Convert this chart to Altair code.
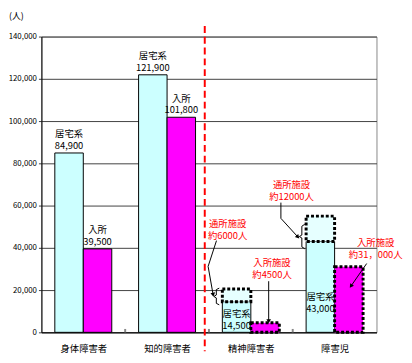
import altair as alt
import pandas as pd

# ---------------- data ----------------
categories = ["身体障害者", "知的障害者", "精神障害者", "障害児"]
home_values = [84900, 121900, 14500, 43000]   # 居宅系
inst_values = [39500, 101800, 4500, 31000]    # 入所
day_values = [0, 0, 6000, 12000]              # 通所施設 (dotted boxes)
y_ticks = [0, 20000, 40000, 60000, 80000, 100000, 120000, 140000]
note_texts = ["通所施設\n約6000人", "入所施設\n約4500人",
              "通所施設\n約12000人", "入所施設\n約31，000人"]

# ---------------- style ----------------
CYAN, MAGENTA, PALE = "#ccffff", "#ff00ff", "#e6ffff"
FONT = "Noto Sans CJK JP"
BAR_W = 0.34
LH = 12

rows = []
for i, c in enumerate(categories):
    mid = i + 0.5
    special = day_values[i] > 0
    rows.append(dict(cat=c, grp="居宅系", x0=mid - BAR_W, x1=mid, y0=0,
                     y1=home_values[i], dotted=False))
    rows.append(dict(cat=c, grp="入所", x0=mid, x1=mid + BAR_W, y0=0,
                     y1=inst_values[i], dotted=special))
    if special:
        rows.append(dict(cat=c, grp="通所", x0=mid - BAR_W, x1=mid,
                         y0=home_values[i], y1=home_values[i] + day_values[i],
                         dotted=True))
bars = pd.DataFrame(rows)

# labels above bars (first two categories)
above = []
for i in range(2):
    mid = i + 0.5
    above.append(dict(x=mid - BAR_W / 2, y=home_values[i],
                      t=f"居宅系\n{home_values[i]:,}"))
    above.append(dict(x=mid + BAR_W / 2, y=inst_values[i],
                      t=f"入所\n{inst_values[i]:,}"))
above = pd.DataFrame(above)

# labels inside cyan bars (last two categories): y of first line
inside_y = [8500, 16800]
inside = pd.DataFrame([
    dict(x=i + 0.5 - BAR_W / 2, y=inside_y[k], t=f"居宅系\n{home_values[i]:,}")
    for k, i in enumerate([2, 3])
])

# red annotations (positions in data units, y of first line)
notes = pd.DataFrame(dict(
    x=[2.223, 2.753, 2.986, 3.99],
    y=[51160, 32560, 69770, 42140],
    t=note_texts,
))

arrows = pd.DataFrame([
    dict(a=0, o=0, x=2.09, y=43400), dict(a=0, o=1, x=1.99, y=31200), dict(a=0, o=2, x=2.05, y=17800),
    dict(a=1, o=0, x=2.713, y=24200), dict(a=1, o=1, x=2.713, y=5200),
    dict(a=2, o=0, x=2.859, y=61400), dict(a=2, o=1, x=2.859, y=53950), dict(a=2, o=2, x=3.062, y=45120),
    dict(a=3, o=0, x=3.883, y=32560), dict(a=3, o=1, x=3.695, y=21860),
])
heads = pd.DataFrame(dict(
    x=[2.05, 2.713, 3.062, 3.695],
    y=[17800, 5200, 45120, 21860],
    ang=[170, 180, 138, 215],
))

braces = pd.DataFrame([
    dict(b=0, o=0, x=2.123, y=20930), dict(b=0, o=1, x=2.088, y=20230),
    dict(b=0, o=2, x=2.088, y=17670), dict(b=0, o=3, x=2.059, y=16980),
    dict(b=0, o=4, x=2.088, y=16280), dict(b=0, o=5, x=2.088, y=13720),
    dict(b=0, o=6, x=2.123, y=13020),
    dict(b=1, o=0, x=3.144, y=51160), dict(b=1, o=1, x=3.109, y=50230),
    dict(b=1, o=2, x=3.109, y=46050), dict(b=1, o=3, x=3.079, y=45350),
    dict(b=1, o=4, x=3.109, y=44650), dict(b=1, o=5, x=3.109, y=40470),
    dict(b=1, o=6, x=3.144, y=39530),
])

divider = pd.DataFrame(dict(x=[1.95], y=[145000], y2=[-9000]))
inner_ticks = pd.DataFrame(dict(x=[1, 2, 3], y=[0, 0, 0], y2=[1600, 1600, 1600]))

# ---------------- scales & axes ----------------
xs = alt.Scale(domain=[0, 4], nice=False, zero=False)
ys = alt.Scale(domain=[0, 140000], nice=False)
label_expr = " : ".join(
    f"datum.value < {i + 1} ? '{c}'" for i, c in enumerate(categories[:-1])
) + f" : '{categories[-1]}'"

x_axis = alt.Axis(values=[0.5, 1.5, 2.5, 3.5], labelExpr=label_expr, ticks=False,
                  grid=False, domainColor="black", labelPadding=12, title=None,
                  labelFont=FONT, labelFontSize=9.5, labelColor="black")
y_axis = alt.Axis(values=y_ticks, format=",d", grid=True, gridColor="#404040",
                  tickSize=3, tickColor="#404040", domainColor="black",
                  labelFont=FONT, labelFontSize=8, labelColor="black", labelPadding=2,
                  title="(人)", titleAngle=0, titleX=-26, titleY=-21,
                  titleAlign="center", titleBaseline="middle", titleFont=FONT,
                  titleFontSize=9, titleFontWeight="normal", titleColor="black")


def X(f):
    return alt.X(f, scale=xs, axis=x_axis)


def Y(f):
    return alt.Y(f, scale=ys, axis=y_axis)


color = alt.Color("grp:N", scale=alt.Scale(domain=["居宅系", "入所", "通所"],
                                            range=[CYAN, MAGENTA, PALE]), legend=None)

solid = alt.Chart(bars[~bars.dotted]).mark_bar(stroke="black", strokeWidth=1).encode(
    x=X("x0:Q"), x2="x1:Q", y=Y("y0:Q"), y2="y1:Q", color=color)

dotted = alt.Chart(bars[bars.dotted]).mark_bar(
    stroke="black", strokeWidth=3, strokeDash=[3, 2]).encode(
    x=X("x0:Q"), x2="x1:Q", y=Y("y0:Q"), y2="y1:Q", color=color)

ticks_layer = alt.Chart(inner_ticks).mark_rule(color="#888888", strokeWidth=2).encode(
    x=X("x:Q"), y=Y("y:Q"), y2="y2:Q")

div_layer = alt.Chart(divider).mark_rule(color="#ff0000", strokeWidth=2,
                                         strokeDash=[7, 4]).encode(
    x=X("x:Q"), y=Y("y:Q"), y2="y2:Q")

above_layer = alt.Chart(above).mark_text(
    baseline="bottom", dy=-2 - LH, lineBreak="\n", lineHeight=LH, font=FONT,
    fontSize=9.5, color="black").encode(x=X("x:Q"), y=Y("y:Q"), text="t:N")

inside_layer = alt.Chart(inside).mark_text(
    baseline="middle", lineBreak="\n", lineHeight=LH, font=FONT,
    fontSize=9.5, color="black").encode(x=X("x:Q"), y=Y("y:Q"), text="t:N")

notes_layer = alt.Chart(notes).mark_text(
    baseline="middle", lineBreak="\n", lineHeight=LH, font=FONT,
    fontSize=9.5, color="#ff0000").encode(x=X("x:Q"), y=Y("y:Q"), text="t:N")

arrow_layer = alt.Chart(arrows).mark_line(color="black", strokeWidth=1).encode(
    x=X("x:Q"), y=Y("y:Q"), detail="a:N", order="o:Q")

head_layer = alt.Chart(heads).mark_point(shape="triangle-up", filled=True,
                                         color="black", opacity=1, size=22).encode(
    x=X("x:Q"), y=Y("y:Q"), angle=alt.Angle("ang:Q", scale=None))

brace_layer = alt.Chart(braces).mark_line(color="black", strokeWidth=1).encode(
    x=X("x:Q"), y=Y("y:Q"), detail="b:N", order="o:Q")

chart = alt.layer(
    solid, dotted, ticks_layer, div_layer, above_layer, inside_layer,
    notes_layer, arrow_layer, head_layer, brace_layer
).properties(
    width=341, height=301,
    autosize=alt.AutoSizeParams(type="none"),
    padding={"left": 34, "top": 26, "right": 28, "bottom": 20},
).configure_view(stroke="#888888", strokeWidth=1)

chart.save("out.html", embed_options={"renderer": "svg", "actions": False})
